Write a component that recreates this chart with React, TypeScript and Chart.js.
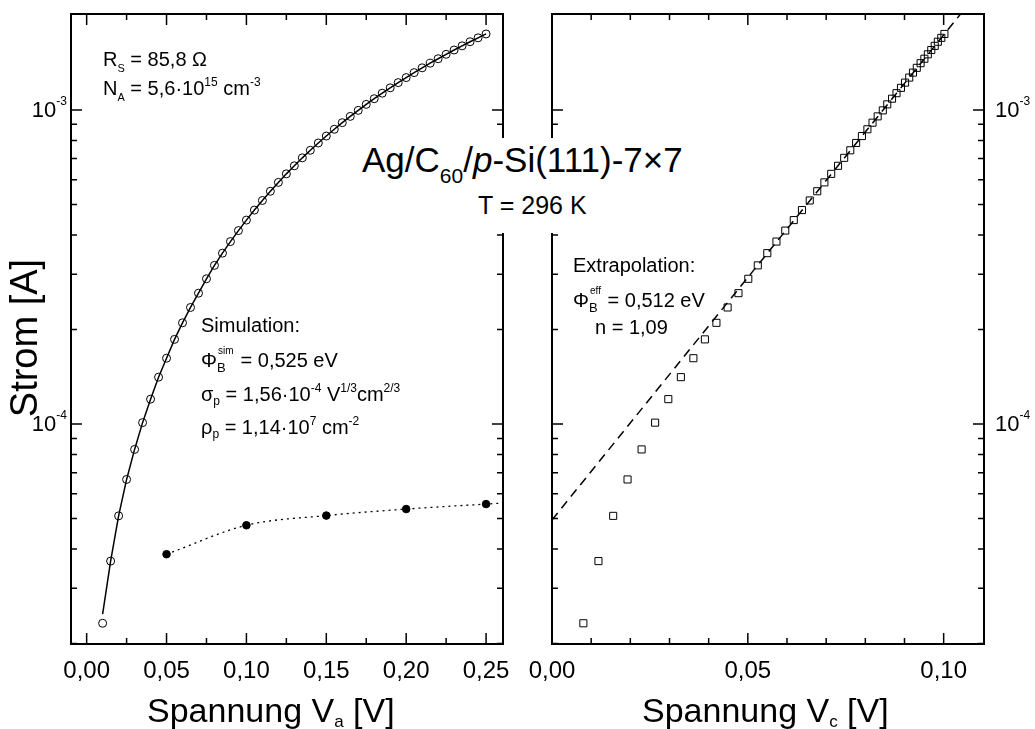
import React, { useEffect, useRef, useState } from "react";
import { Chart, registerables } from "chart.js";
Chart.register(...registerables);

const FONT = "'Liberation Sans', Arial, Helvetica, sans-serif";
Chart.defaults.font.family = FONT;

// ---------- data ----------
// left panel: applied voltage V_a [V] of the measured points (open circles)
const vaMeasured = [
  0.010, 0.015, 0.020, 0.025, 0.030, 0.035, 0.040, 0.045, 0.050, 0.055,
  0.060, 0.065, 0.070, 0.075, 0.080, 0.085, 0.090, 0.095, 0.100, 0.105,
  0.110, 0.115, 0.120, 0.125, 0.130, 0.135, 0.140, 0.145, 0.150, 0.155,
  0.160, 0.165, 0.170, 0.175, 0.180, 0.185, 0.190, 0.195, 0.200, 0.205,
  0.210, 0.215, 0.220, 0.225, 0.230, 0.235, 0.240, 0.245, 0.250,
];
// measured current [A]
const iMeasured = [
  2.32e-5, 3.66e-5, 5.10e-5, 6.66e-5, 8.30e-5, 1.01e-4, 1.20e-4, 1.41e-4, 1.62e-4, 1.86e-4,
  2.10e-4, 2.35e-4, 2.61e-4, 2.90e-4, 3.20e-4, 3.50e-4, 3.81e-4, 4.13e-4, 4.46e-4, 4.80e-4,
  5.15e-4, 5.51e-4, 5.88e-4, 6.26e-4, 6.64e-4, 7.04e-4, 7.44e-4, 7.85e-4, 8.26e-4, 8.68e-4,
  9.11e-4, 9.54e-4, 9.97e-4, 1.042e-3, 1.086e-3, 1.131e-3, 1.176e-3, 1.222e-3, 1.268e-3, 1.315e-3,
  1.362e-3, 1.409e-3, 1.456e-3, 1.504e-3, 1.552e-3, 1.600e-3, 1.649e-3, 1.697e-3, 1.746e-3,
];
// simulation curve (solid line), same voltages
const iSimulationFit = [
  2.48e-5, 3.66e-5, 5.10e-5, 6.66e-5, 8.30e-5, 1.01e-4, 1.20e-4, 1.41e-4, 1.62e-4, 1.86e-4,
  2.10e-4, 2.35e-4, 2.61e-4, 2.90e-4, 3.20e-4, 3.50e-4, 3.81e-4, 4.13e-4, 4.46e-4, 4.80e-4,
  5.15e-4, 5.51e-4, 5.88e-4, 6.26e-4, 6.64e-4, 7.04e-4, 7.44e-4, 7.85e-4, 8.26e-4, 8.68e-4,
  9.11e-4, 9.54e-4, 9.97e-4, 1.042e-3, 1.086e-3, 1.131e-3, 1.176e-3, 1.222e-3, 1.268e-3, 1.315e-3,
  1.362e-3, 1.409e-3, 1.456e-3, 1.504e-3, 1.552e-3, 1.600e-3, 1.649e-3, 1.697e-3, 1.746e-3,
];
// filled dots + dotted trend
const vaDots = [0.05, 0.10, 0.15, 0.20, 0.25];
const iDots = [3.85e-5, 4.76e-5, 5.11e-5, 5.36e-5, 5.56e-5];
const vaTrend = [0.05, 0.10, 0.15, 0.20, 0.25, 0.26];
const iTrend = [3.85e-5, 4.76e-5, 5.11e-5, 5.36e-5, 5.56e-5, 5.60e-5];

// right panel: corrected voltage V_c [V] of the squares (currents = iMeasured)
const vcMeasured = [
  0.00801, 0.01186, 0.01562, 0.01929, 0.02288, 0.02633, 0.02970, 0.03290, 0.03610, 0.03904,
  0.04198, 0.04484, 0.04761, 0.05012, 0.05254, 0.05497, 0.05731, 0.05956, 0.06173, 0.06382,
  0.06581, 0.06772, 0.06955, 0.07129, 0.07303, 0.07460, 0.07616, 0.07765, 0.07913, 0.08053,
  0.08184, 0.08315, 0.08446, 0.08560, 0.08682, 0.08796, 0.08910, 0.09015, 0.09121, 0.09217,
  0.09314, 0.09411, 0.09508, 0.09596, 0.09684, 0.09772, 0.09852, 0.09940, 0.10019,
];
// extrapolation (dashed line)
const vcExtrap = [0, 0.105];
const iExtrap = [4.95e-5, 2.07e-3];

// ---------- axes ----------
const xRangeA = [-0.0098, 0.2606];
const xRangeC = [0, 0.1103];
const yRange = [1.993e-5, 2.021e-3];
const xMajorA = [0, 0.05, 0.1, 0.15, 0.2, 0.25];
const xMinorA = [0.025, 0.075, 0.125, 0.175, 0.225];
const xMajorC = [0, 0.05, 0.1];
const xMinorC = [0.01, 0.02, 0.03, 0.04, 0.06, 0.07, 0.08, 0.09];
const yMajor = [1e-4, 1e-3];
const yMinor = [2e-5, 3e-5, 4e-5, 5e-5, 6e-5, 7e-5, 8e-5, 9e-5, 2e-4, 3e-4, 4e-4, 5e-4, 6e-4, 7e-4, 8e-4, 9e-4];

const CANVAS_A = { left: 0, width: 540 };
const CANVAS_B = { left: 500, width: 535 };
const H = 729;

function framePlugin(xMajor: number[], xMinor: number[]) {
  return {
    id: "frame",
    afterDraw(chart: any) {
      const { ctx, chartArea: a } = chart;
      const xs = chart.scales.x;
      const ys = chart.scales.y;
      ctx.save();
      ctx.strokeStyle = "#000";
      ctx.lineWidth = 1.5;
      ctx.beginPath();
      const vt = (v: number, len: number) => {
        const p = xs.getPixelForValue(v);
        ctx.moveTo(p, a.bottom);
        ctx.lineTo(p, a.bottom - len);
        ctx.moveTo(p, a.top);
        ctx.lineTo(p, a.top + len);
      };
      const ht = (v: number, len: number) => {
        const p = ys.getPixelForValue(v);
        ctx.moveTo(a.left, p);
        ctx.lineTo(a.left + len, p);
        ctx.moveTo(a.right, p);
        ctx.lineTo(a.right - len, p);
      };
      xMajor.forEach((v) => vt(v, 11));
      xMinor.forEach((v) => vt(v, 6));
      yMajor.forEach((v) => ht(v, 11));
      yMinor.forEach((v) => ht(v, 6));
      ctx.stroke();
      ctx.lineWidth = 2;
      ctx.strokeRect(a.left, a.top, a.right - a.left, a.bottom - a.top);
      ctx.restore();
    },
  };
}

function makeConfig(datasets: any[], xRange: number[], xMajor: number[], xMinor: number[], padding: any) {
  return {
    type: "scatter" as const,
    data: { datasets },
    options: {
      animation: false,
      responsive: false,
      maintainAspectRatio: false,
      layout: { padding },
      plugins: { legend: { display: false }, tooltip: { enabled: false } },
      scales: {
        x: {
          type: "linear",
          min: xRange[0],
          max: xRange[1],
          grid: { display: false, drawTicks: false },
          border: { display: false },
          afterBuildTicks: (s: any) => {
            s.ticks = xMajor.map((v) => ({ value: v }));
          },
          afterFit: (s: any) => {
            s.height = 85;
          },
          ticks: {
            autoSkip: false,
            maxRotation: 0,
            padding: 13,
            color: "#000",
            font: { family: FONT, size: 24 },
            callback: (v: any) => Number(v).toFixed(2).replace(".", ","),
          },
        },
        y: { type: "logarithmic", min: yRange[0], max: yRange[1], display: false },
      },
    },
    plugins: [framePlugin(xMajor, xMinor)],
  };
}

const pts = (xs: number[], ys: number[]) => xs.map((x, i) => ({ x, y: ys[i] }));

const Sup = ({ s, dy, children }: any) => (
  <span style={{ fontSize: s, position: "relative", top: dy, lineHeight: 0 }}>{children}</span>
);

const Txt = ({ x, y, size, children, style }: any) => (
  <div
    style={{
      position: "absolute",
      left: x,
      top: y - size * 0.6,
      fontSize: size,
      lineHeight: `${size * 1.2}px`,
      whiteSpace: "nowrap",
      fontFamily: FONT,
      color: "#000",
      ...style,
    }}
  >
    {children}
  </div>
);

const Stack = ({ sup, sub, w }: any) => (
  <span style={{ display: "inline-block", position: "relative", width: w, height: "1em" }}>
    <span style={{ position: "absolute", left: 1, top: -1, fontSize: 10, lineHeight: 1 }}>{sup}</span>
    <span style={{ position: "absolute", left: 0, top: 14, fontSize: 13, lineHeight: 1 }}>{sub}</span>
  </span>
);

export default function App() {
  const refA = useRef<HTMLCanvasElement>(null);
  const refB = useRef<HTMLCanvasElement>(null);
  const [yLab, setYLab] = useState<{ e: number; ya: number; yb: number; xa: number; xb: number }[]>([]);

  useEffect(() => {
    const ca = new Chart(
      refA.current as HTMLCanvasElement,
      makeConfig(
        [
          {
            data: pts(vaMeasured, iSimulationFit),
            showLine: true,
            borderColor: "#000",
            borderWidth: 1.5,
            pointRadius: 0,
          },
          {
            data: pts(vaMeasured, iMeasured),
            showLine: false,
            pointRadius: 4,
            pointBorderWidth: 1,
            borderColor: "#000",
            backgroundColor: "rgba(0,0,0,0)",
          },
          {
            data: pts(vaTrend, iTrend),
            showLine: true,
            borderColor: "#000",
            borderWidth: 1.3,
            borderDash: [2, 4],
            pointRadius: 0,
            cubicInterpolationMode: "monotone",
          },
          {
            data: pts(vaDots, iDots),
            showLine: false,
            pointRadius: 3.8,
            borderColor: "#000",
            backgroundColor: "#000",
          },
        ],
        xRangeA,
        xMajorA,
        xMinorA,
        { left: 71, right: CANVAS_A.width - 503, top: 14, bottom: 0 }
      ) as any
    );
    const cb = new Chart(
      refB.current as HTMLCanvasElement,
      makeConfig(
        [
          {
            data: pts(vcExtrap, iExtrap),
            showLine: true,
            borderColor: "#000",
            borderWidth: 1.5,
            borderDash: [9, 6],
            pointRadius: 0,
          },
          {
            data: pts(vcMeasured, iMeasured),
            showLine: false,
            pointStyle: "rect",
            pointRadius: 5,
            pointBorderWidth: 1,
            borderColor: "#000",
            backgroundColor: "rgba(0,0,0,0)",
          },
        ],
        xRangeC,
        xMajorC,
        xMinorC,
        { left: 552 - CANVAS_B.left, right: CANVAS_B.left + CANVAS_B.width - 984, top: 14, bottom: 0 }
      ) as any
    );
    setYLab(
      yMajor.map((v) => ({
        e: Math.round(Math.log10(v)),
        ya: ca.scales.y.getPixelForValue(v),
        yb: cb.scales.y.getPixelForValue(v),
        xa: ca.chartArea.left + CANVAS_A.left - 4,
        xb: cb.chartArea.right + CANVAS_B.left + 11,
      }))
    );
    return () => {
      ca.destroy();
      cb.destroy();
    };
  }, []);

  const ann = 20;
  return (
    <div
      style={{
        position: "absolute",
        left: 0,
        top: 0,
        width: 1035,
        height: H,
        background: "#fff",
        overflow: "hidden",
        fontFamily: FONT,
      }}
    >
      <canvas
        ref={refA}
        width={CANVAS_A.width}
        height={H}
        style={{ position: "absolute", left: CANVAS_A.left, top: 0 }}
      />
      <canvas
        ref={refB}
        width={CANVAS_B.width}
        height={H}
        style={{ position: "absolute", left: CANVAS_B.left, top: 0 }}
      />

      {/* y tick labels */}
      {yLab.map((l) => (
        <React.Fragment key={l.e}>
          <Txt x={0} y={l.ya} size={22} style={{ width: l.xa, textAlign: "right" }}>
            10<Sup s={12} dy={-12}>{l.e}</Sup>
          </Txt>
          <Txt x={l.xb} y={l.yb} size={22}>
            10<Sup s={12} dy={-12}>{l.e}</Sup>
          </Txt>
        </React.Fragment>
      ))}

      {/* y axis title */}
      <div
        style={{
          position: "absolute",
          left: 24.5,
          top: 338,
          transform: "translate(-50%, -50%) rotate(-90deg)",
          fontSize: 38,
          lineHeight: "1.2",
          whiteSpace: "nowrap",
          fontFamily: FONT,
        }}
      >
        Strom [A]
      </div>

      {/* x axis titles */}
      <Txt x={147} y={710} size={34}>
        Spannung V<Sup s={17} dy={5}>a</Sup> [V]
      </Txt>
      <Txt x={642} y={710} size={34}>
        Spannung V<Sup s={17} dy={5}>c</Sup> [V]
      </Txt>

      {/* annotations, left panel */}
      <Txt x={103} y={59} size={ann}>
        R<Sup s={11} dy={6}>S</Sup> = 85,8 Ω
      </Txt>
      <Txt x={103} y={88} size={ann}>
        N<Sup s={11} dy={6}>A</Sup> = 5,6·10<Sup s={12} dy={-9}>15</Sup> cm<Sup s={12} dy={-9}>-3</Sup>
      </Txt>
      <Txt x={201} y={325} size={ann}>Simulation:</Txt>
      <Txt x={201} y={359} size={ann}>
        Φ<Stack sup="sim" sub="B" w={18} /> = 0,525 eV
      </Txt>
      <Txt x={201} y={394} size={ann}>
        σ<Sup s={12} dy={4}>p</Sup> = 1,56·10<Sup s={12} dy={-9}>-4</Sup> V<Sup s={12} dy={-9}>1/3</Sup>cm
        <Sup s={12} dy={-9}>2/3</Sup>
      </Txt>
      <Txt x={201} y={427} size={ann}>
        ρ<Sup s={12} dy={4}>p</Sup> = 1,14·10<Sup s={12} dy={-9}>7</Sup> cm<Sup s={12} dy={-9}>-2</Sup>
      </Txt>

      {/* annotations, right panel */}
      <Txt x={573} y={265} size={ann}>Extrapolation:</Txt>
      <Txt x={573} y={299} size={ann}>
        Φ<Stack sup="eff" sub="B" w={13} /> = 0,512 eV
      </Txt>
      <Txt x={595} y={327} size={ann}>n = 1,09</Txt>

      {/* title box */}
      <div style={{ position: "absolute", left: 355, top: 138, width: 335, height: 95, background: "#fff" }} />
      <Txt x={362} y={160} size={35}>
        Ag/C<Sup s={21} dy={11}>60</Sup>/<i>p</i>-Si(111)-7×7
      </Txt>
      <Txt x={478} y={205} size={25}>T = 296 K</Txt>
    </div>
  );
}
